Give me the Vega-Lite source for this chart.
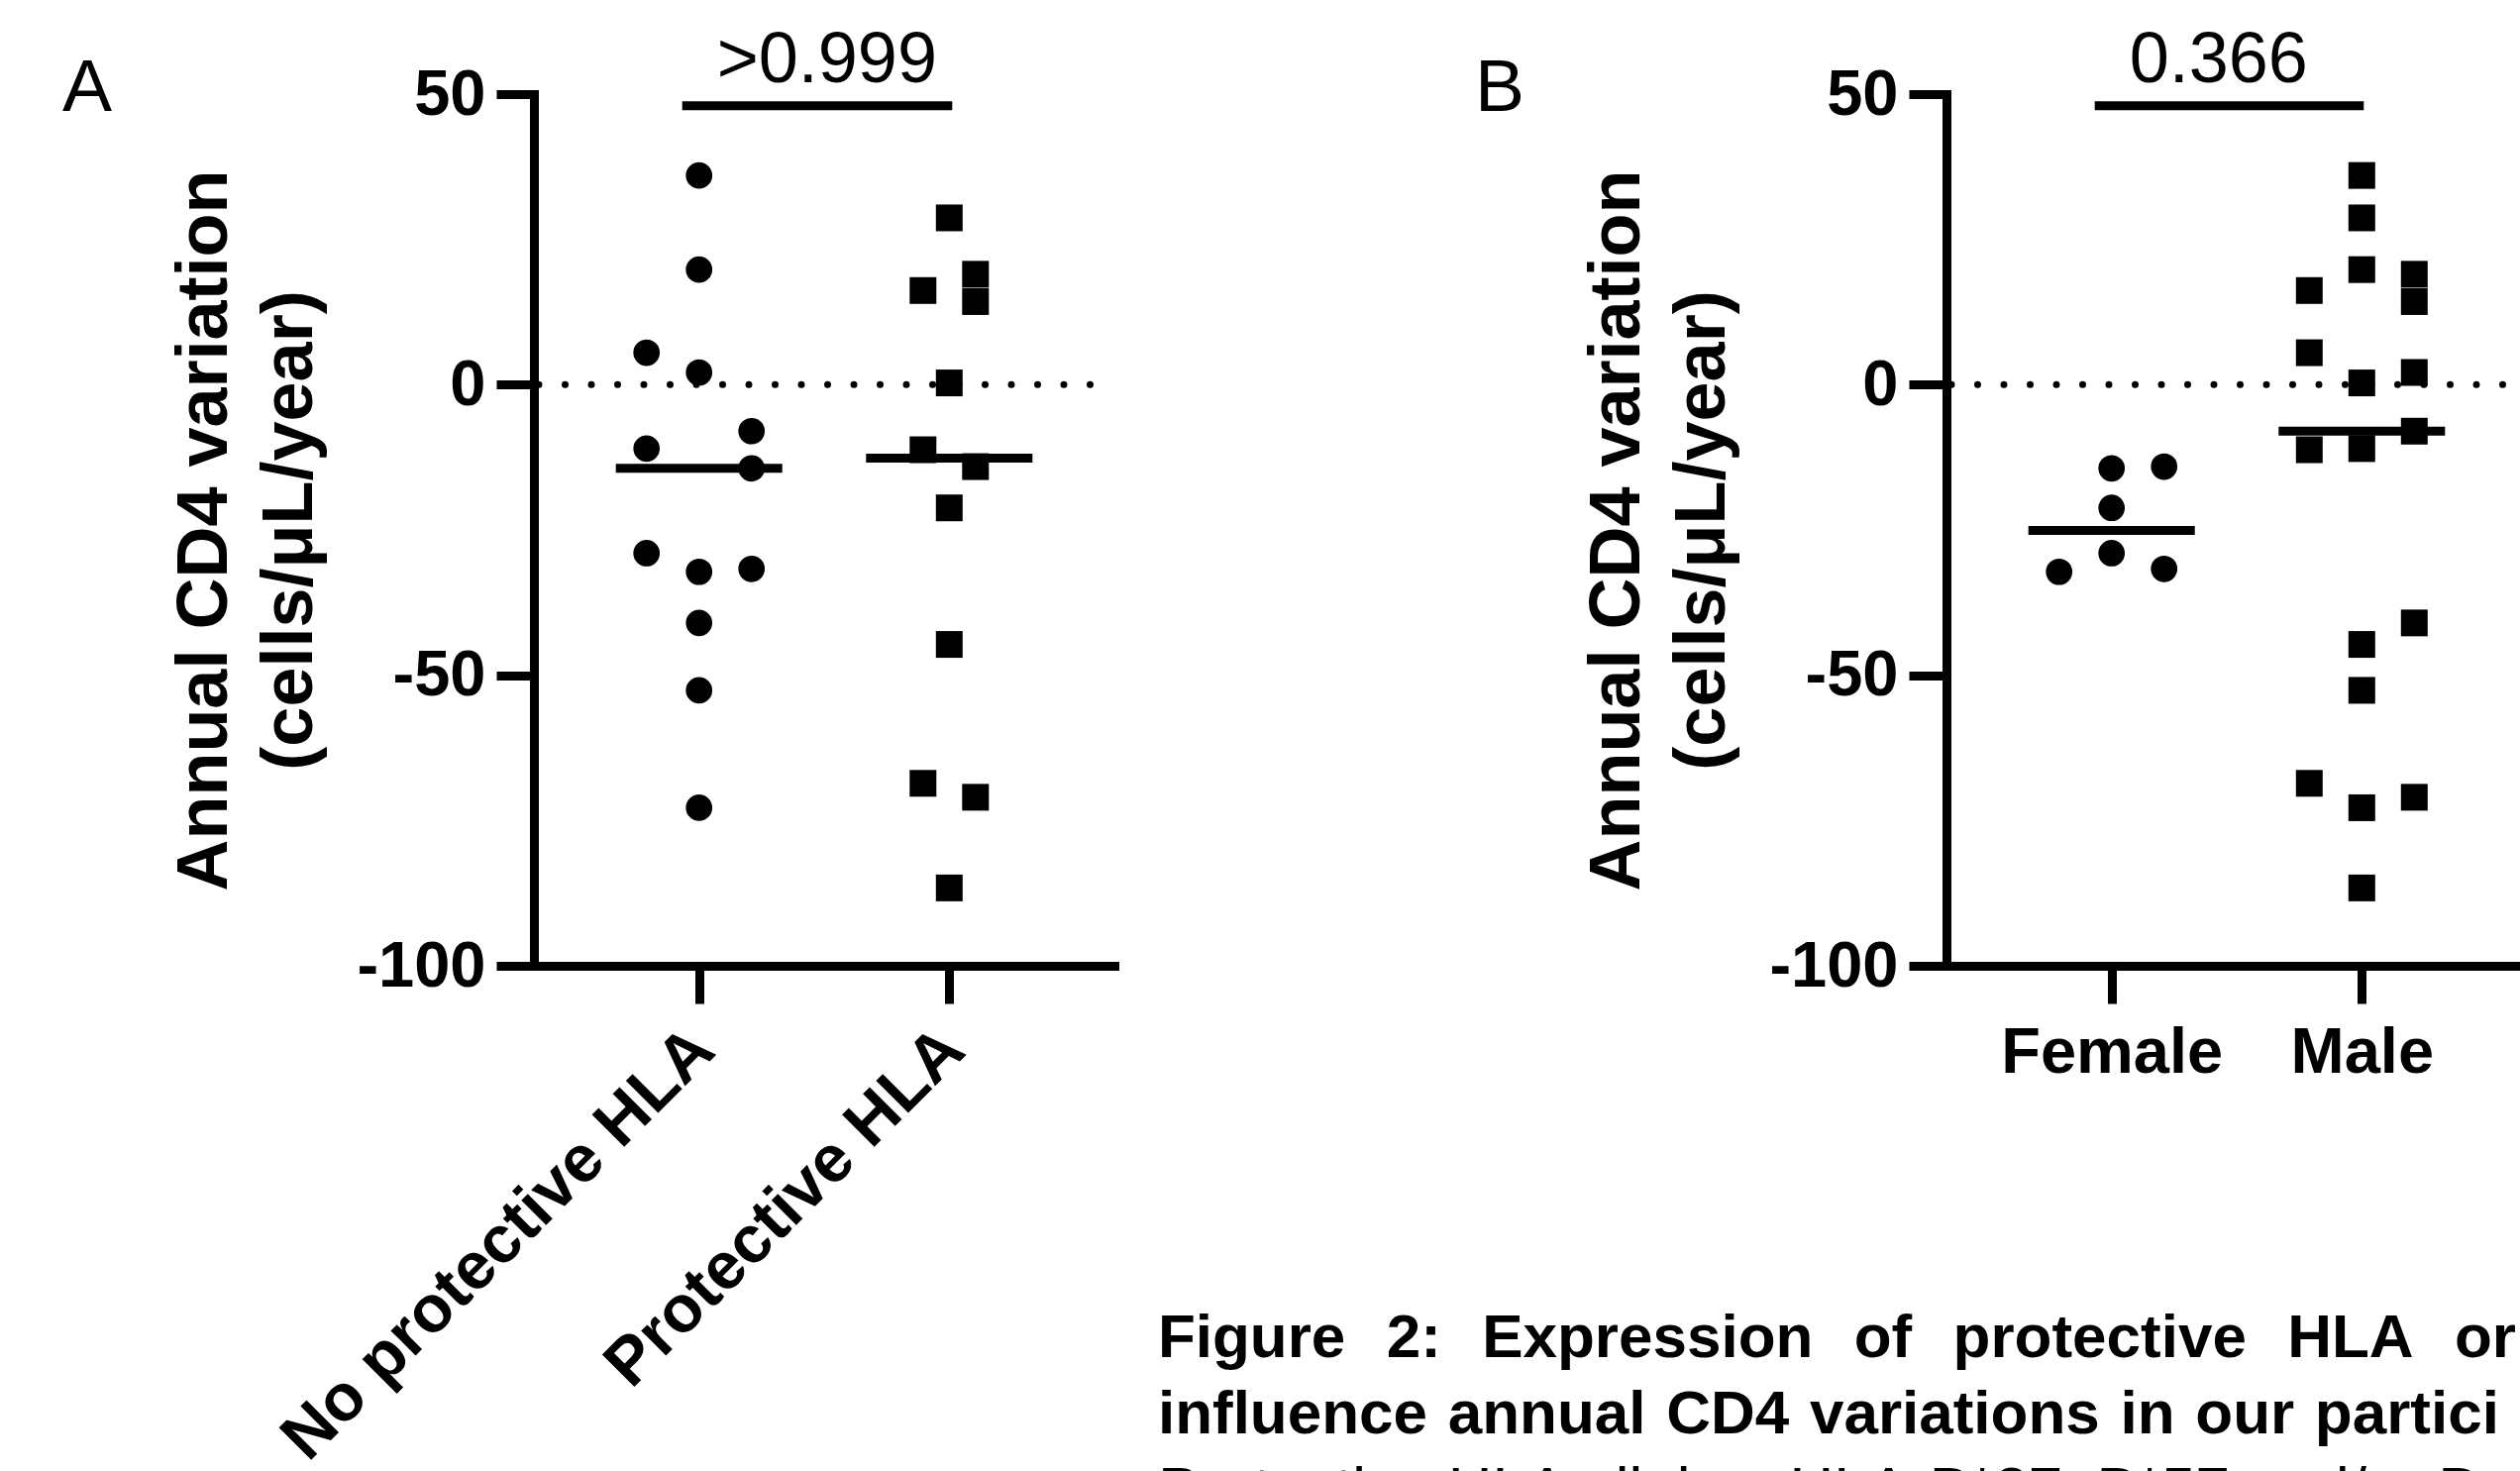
{
  "$schema": "https://vega.github.io/schema/vega-lite/v6.json",
  "background": "white",
  "padding": {"left": 62, "top": 24, "right": 0, "bottom": 0},
  "config": {
    "font": "Liberation Sans",
    "view": {"stroke": null},
    "axis": {
      "domainColor": "black", "domainWidth": 9, "domainCap": "square",
      "tickColor": "black", "tickWidth": 9, "tickSize": 38,
      "labelFont": "Liberation Sans", "labelFontSize": 65, "labelFontWeight": "bold", "labelColor": "black", "labelLimit": 0,
      "titleFont": "Liberation Sans", "titleFontSize": 72, "titleFontWeight": "bold", "titleColor": "black",
      "grid": false
    }
  },
  "datasets": {
    "pts": [
      {"value": 36.0, "hla": "No protective HLA", "sex": "Male", "sa": 0, "sb": 0},
      {"value": 19.8, "hla": "No protective HLA", "sex": "Male", "sa": 0, "sb": 0},
      {"value": 2.1, "hla": "No protective HLA", "sex": "Male", "sa": 0, "sb": 2},
      {"value": -32.2, "hla": "No protective HLA", "sex": "Female", "sa": 0, "sb": -2},
      {"value": -41.0, "hla": "No protective HLA", "sex": "Male", "sa": 0, "sb": 2},
      {"value": -52.6, "hla": "No protective HLA", "sex": "Male", "sa": 0, "sb": 0},
      {"value": -72.8, "hla": "No protective HLA", "sex": "Male", "sa": 0, "sb": 0},
      {"value": 5.5, "hla": "No protective HLA", "sex": "Male", "sa": -2, "sb": -2},
      {"value": -11.0, "hla": "No protective HLA", "sex": "Male", "sa": -2, "sb": 0},
      {"value": -29.0, "hla": "No protective HLA", "sex": "Female", "sa": -2, "sb": 0},
      {"value": -8.0, "hla": "No protective HLA", "sex": "Male", "sa": 2, "sb": 2},
      {"value": -14.4, "hla": "No protective HLA", "sex": "Female", "sa": 2, "sb": 0},
      {"value": -31.7, "hla": "No protective HLA", "sex": "Female", "sa": 2, "sb": 2},
      {"value": 28.7, "hla": "Protective HLA", "sex": "Male", "sa": 0, "sb": 0},
      {"value": 0.3, "hla": "Protective HLA", "sex": "Male", "sa": 0, "sb": 0},
      {"value": -21.2, "hla": "Protective HLA", "sex": "Female", "sa": 0, "sb": 0},
      {"value": -44.7, "hla": "Protective HLA", "sex": "Male", "sa": 0, "sb": 0},
      {"value": -86.6, "hla": "Protective HLA", "sex": "Male", "sa": 0, "sb": 0},
      {"value": 16.2, "hla": "Protective HLA", "sex": "Male", "sa": -1, "sb": -2},
      {"value": -11.2, "hla": "Protective HLA", "sex": "Male", "sa": -1, "sb": -2},
      {"value": -68.6, "hla": "Protective HLA", "sex": "Male", "sa": -1, "sb": -2},
      {"value": 19.0, "hla": "Protective HLA", "sex": "Male", "sa": 1, "sb": 2},
      {"value": 14.3, "hla": "Protective HLA", "sex": "Male", "sa": 1, "sb": 2},
      {"value": -14.1, "hla": "Protective HLA", "sex": "Female", "sa": 1, "sb": 2},
      {"value": -71.0, "hla": "Protective HLA", "sex": "Male", "sa": 1, "sb": 2}
    ],
    "annA": [{"hla": "No protective HLA", "hla2": "Protective HLA", "p": ">0.999"}],
    "annB": [{"sex": "Female", "sex2": "Male", "p": "0.366"}]
  },
  "title": {
    "text": ["Figure\u2002\u20062:\u2002\u2006Expression\u2002\u2006of\u2002\u2006protective\u2002\u2006HLA\u2002\u2006or", "influence\u2004annual\u2004CD4\u2004variations\u2004in\u2004our\u2004partici"],
    "subtitle": "Protective HLA alleles: HLA-B*27, B*57 and/or B",
    "orient": "bottom", "anchor": "start", "frame": "bounds",
    "font": "Liberation Sans", "fontSize": 62, "fontWeight": "bold", "lineHeight": 77, "color": "black",
    "subtitleFont": "Liberation Sans", "subtitleFontSize": 62, "subtitleFontWeight": "normal", "subtitleLineHeight": 77, "subtitleColor": "black", "subtitlePadding": 15,
    "dx": 1106, "offset": -165
  },
  "spacing": 359,
  "hconcat": [
    {
      "width": 586, "height": 880,
      "title": {"text": "A", "anchor": "start", "frame": "bounds", "font": "Liberation Sans", "fontSize": 75, "fontWeight": "normal", "color": "black", "dx": -108, "offset": -103},
      "layer": [
        {
          "data": {"values": [{"z": 0}]},
          "mark": {"type": "rule", "strokeDash": [0, 26.5], "strokeCap": "round", "strokeWidth": 7, "strokeDashOffset": 2, "color": "black"},
          "encoding": {"y": {"field": "z", "type": "quantitative", "scale": {"domain": [-100, 50], "nice": false, "zero": false}}}
        },
        {
          "data": {"name": "pts"},
          "transform": [{"filter": "datum.hla === 'No protective HLA'"}],
          "mark": {"type": "point", "shape": "circle", "filled": true, "size": 713, "color": "black", "opacity": 1},
          "encoding": {
            "x": {"field": "hla", "type": "nominal", "scale": {"type": "point", "domain": ["No protective HLA", "Protective HLA"], "padding": 0.66},
                  "axis": {"title": null, "labelAngle": -45, "labelAlign": "right", "labelBaseline": "middle", "labelPadding": 36, "labelOffset": 4, "labelFontSize": 67}},
            "xOffset": {"field": "sa", "type": "quantitative", "scale": {"domain": [-2, 2], "range": [-53, 53]}},
            "y": {"field": "value", "type": "quantitative", "scale": {"domain": [-100, 50], "nice": false, "zero": false},
                  "axis": {"values": [-100, -50, 0, 50], "labelExpr": "datum.value + ''", "labelPadding": 11, "title": ["Annual CD4 variation", "(cells/μL/year)"], "titleLineHeight": 86, "titlePadding": 30}}
          }
        },
        {
          "data": {"name": "pts"},
          "transform": [{"filter": "datum.hla === 'Protective HLA'"}],
          "mark": {"type": "point", "shape": "square", "filled": true, "size": 729, "color": "black", "opacity": 1},
          "encoding": {
            "x": {"field": "hla", "type": "nominal"},
            "xOffset": {"field": "sa", "type": "quantitative", "scale": {"domain": [-2, 2], "range": [-53, 53]}},
            "y": {"field": "value", "type": "quantitative"}
          }
        },
        {
          "data": {"name": "pts"},
          "mark": {"type": "tick", "orient": "horizontal", "size": 168, "thickness": 9, "color": "black", "opacity": 1},
          "encoding": {
            "x": {"field": "hla", "type": "nominal"},
            "y": {"field": "value", "aggregate": "median", "type": "quantitative"}
          }
        },
        {
          "data": {"name": "annA"},
          "mark": {"type": "rule", "strokeWidth": 9, "color": "black", "xOffset": -17, "x2Offset": 3},
          "encoding": {
            "x": {"field": "hla", "type": "nominal"},
            "x2": {"field": "hla2"},
            "y": {"datum": 48}
          }
        },
        {
          "data": {"name": "annA"},
          "mark": {"type": "text", "align": "left", "baseline": "alphabetic", "dx": 18, "dy": -24, "font": "Liberation Sans", "fontSize": 72, "fontWeight": "normal", "color": "black"},
          "encoding": {
            "x": {"field": "hla", "type": "nominal"},
            "y": {"datum": 48},
            "text": {"field": "p"}
          }
        }
      ]
    },
    {
      "width": 586, "height": 880,
      "title": {"text": "B", "anchor": "start", "frame": "bounds", "font": "Liberation Sans", "fontSize": 75, "fontWeight": "normal", "color": "black", "dx": -108, "offset": -103},
      "layer": [
        {
          "data": {"values": [{"z": 0}]},
          "mark": {"type": "rule", "strokeDash": [0, 26.5], "strokeCap": "round", "strokeWidth": 7, "strokeDashOffset": 2, "color": "black"},
          "encoding": {"y": {"field": "z", "type": "quantitative", "scale": {"domain": [-100, 50], "nice": false, "zero": false}}}
        },
        {
          "data": {"name": "pts"},
          "transform": [{"filter": "datum.sex === 'Female'"}],
          "mark": {"type": "point", "shape": "circle", "filled": true, "size": 713, "color": "black", "opacity": 1},
          "encoding": {
            "x": {"field": "sex", "type": "nominal", "scale": {"type": "point", "domain": ["Female", "Male"], "padding": 0.66},
                  "axis": {"title": null, "labelAngle": 0, "labelPadding": 18}},
            "xOffset": {"field": "sb", "type": "quantitative", "scale": {"domain": [-2, 2], "range": [-53, 53]}},
            "y": {"field": "value", "type": "quantitative", "scale": {"domain": [-100, 50], "nice": false, "zero": false},
                  "axis": {"values": [-100, -50, 0, 50], "labelExpr": "datum.value + ''", "labelPadding": 11, "title": ["Annual CD4 variation", "(cells/μL/year)"], "titleLineHeight": 86, "titlePadding": 30}}
          }
        },
        {
          "data": {"name": "pts"},
          "transform": [{"filter": "datum.sex === 'Male'"}],
          "mark": {"type": "point", "shape": "square", "filled": true, "size": 729, "color": "black", "opacity": 1},
          "encoding": {
            "x": {"field": "sex", "type": "nominal"},
            "xOffset": {"field": "sb", "type": "quantitative", "scale": {"domain": [-2, 2], "range": [-53, 53]}},
            "y": {"field": "value", "type": "quantitative"}
          }
        },
        {
          "data": {"name": "pts"},
          "mark": {"type": "tick", "orient": "horizontal", "size": 168, "thickness": 9, "color": "black", "opacity": 1},
          "encoding": {
            "x": {"field": "sex", "type": "nominal"},
            "y": {"field": "value", "aggregate": "median", "type": "quantitative"}
          }
        },
        {
          "data": {"name": "annB"},
          "mark": {"type": "rule", "strokeWidth": 9, "color": "black", "xOffset": -17, "x2Offset": 2},
          "encoding": {
            "x": {"field": "sex", "type": "nominal"},
            "x2": {"field": "sex2"},
            "y": {"datum": 48}
          }
        },
        {
          "data": {"name": "annB"},
          "mark": {"type": "text", "align": "left", "baseline": "alphabetic", "dx": 18, "dy": -24, "font": "Liberation Sans", "fontSize": 72, "fontWeight": "normal", "color": "black"},
          "encoding": {
            "x": {"field": "sex", "type": "nominal"},
            "y": {"datum": 48},
            "text": {"field": "p"}
          }
        }
      ]
    }
  ]
}
